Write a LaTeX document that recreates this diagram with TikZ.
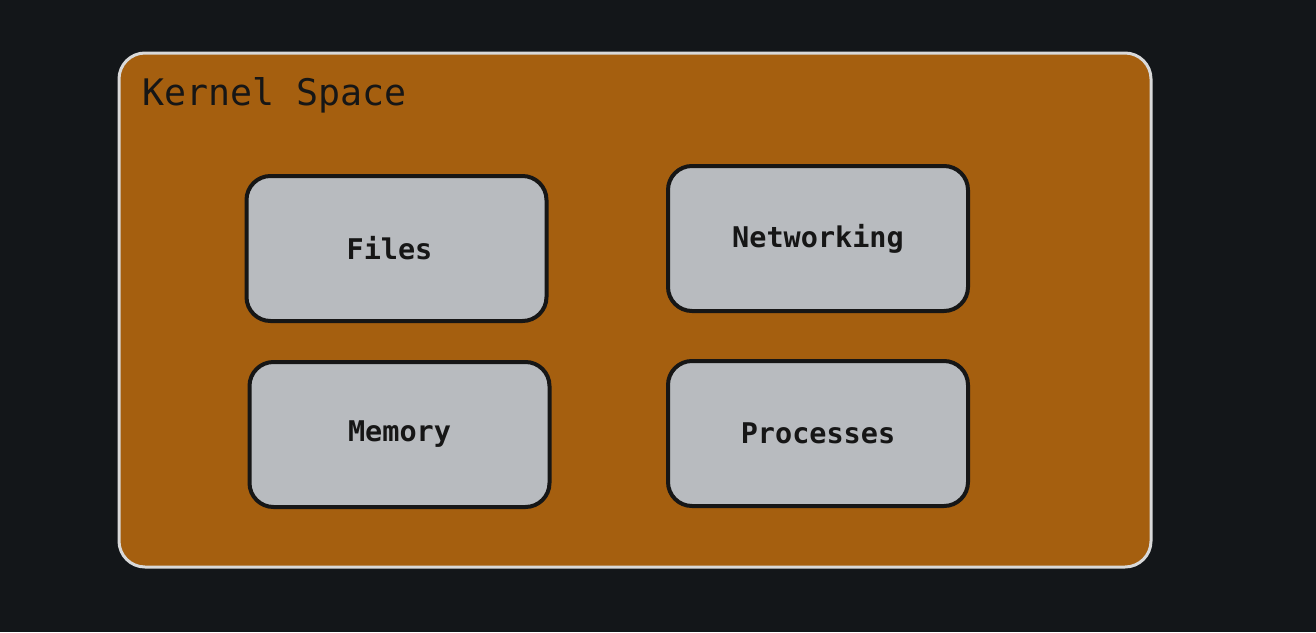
\documentclass[tikz,border=0pt]{standalone}
\usepackage{fontspec}
\setmonofont{DejaVu Sans Mono}
\usetikzlibrary{backgrounds}

\definecolor{bgDark}{HTML}{131619}
\definecolor{kernelFill}{HTML}{A55F0F}
\definecolor{kernelEdge}{HTML}{D9D9D9}
\definecolor{partFill}{HTML}{B8BBBF}
\definecolor{inkDark}{HTML}{161616}

\begin{document}
\begin{tikzpicture}[x=1pt, y=-1pt,
    part/.style={draw=inkDark, line width=4pt, fill=partFill,
                 rounded corners=24pt, minimum width=300pt,
                 minimum height=145pt, inner sep=0pt,
                 text=inkDark, font=\ttfamily\bfseries\fontsize{28.5}{28.5}\selectfont}]
  % Fix the page size to the reference
  \fill[bgDark] (0,0) rectangle (1316,632);

  % The kernel space frame
  \draw[kernelEdge, line width=3pt, fill=kernelFill, rounded corners=26pt]
    (119,53) rectangle (1151,567);
  \node(title) at (142,95) [anchor=west, text=inkDark, inner sep=0pt,
    font=\ttfamily\fontsize{36.6}{36.6}\selectfont] {Kernel Space};

  % The four subsystems
  \node[part] (files)      at (396.5,248.5) {\hspace*{-14pt}\raisebox{2pt}{Files}};
  \node[part] (networking) at (818,238.5)   {\raisebox{-3pt}{Networking}};
  \node[part] (memory)     at (399.5,434.5) {\raisebox{-4pt}{Memory}};
  \node[part] (processes)  at (818,433.5)   {\raisebox{-2pt}{Processes}};
\end{tikzpicture}
\end{document}
